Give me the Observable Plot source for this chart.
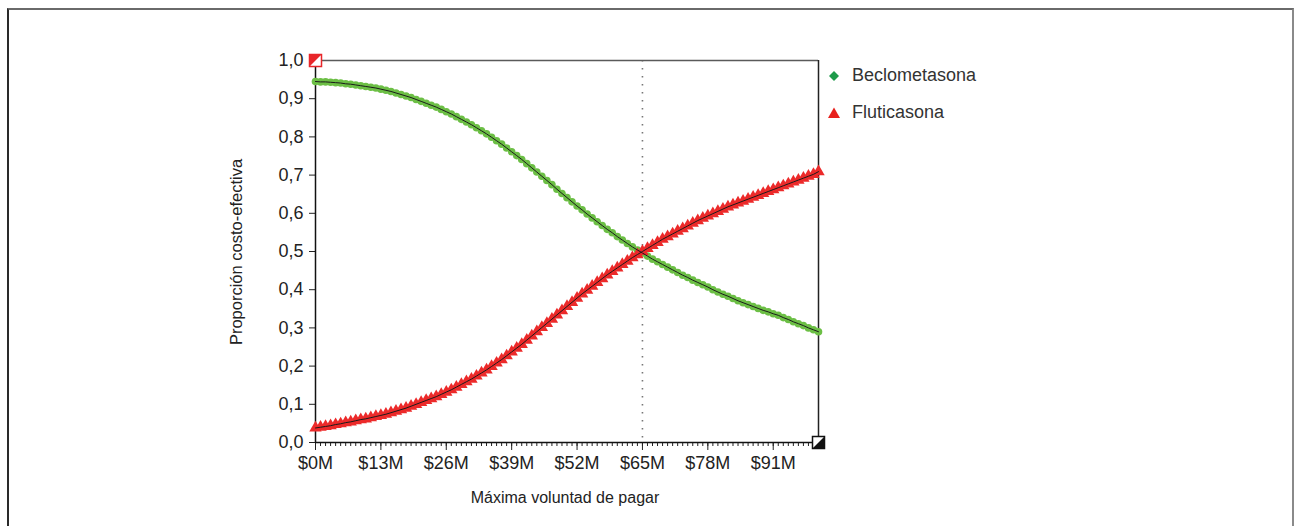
<!DOCTYPE html>
<html><head><meta charset="utf-8">
<script src="https://cdn.jsdelivr.net/npm/d3@7"></script>
<script src="https://cdn.jsdelivr.net/npm/@observablehq/plot@0.6"></script>
<style>
body{margin:0;background:#fff;font-family:"Liberation Sans",Arial,sans-serif;}
#wrap{position:relative;width:1298px;height:526px;overflow:hidden;background:#fff;}
#frame{position:absolute;left:7px;top:8px;width:1287px;height:560px;border-top:2px solid #6a6a6a;border-left:2px solid #2a2a2a;border-right:2px solid #8a8a8a;box-sizing:border-box;}
#chart{position:absolute;left:0;top:0;}
.lbl{position:absolute;font-size:16px;color:#222;white-space:nowrap;}
.leg{position:absolute;font-size:18px;color:#333;white-space:nowrap;display:flex;align-items:center;}
.leg svg{margin-right:11px;}
</style>
</head><body>
<div id="wrap">
  <div id="frame"></div>
  <div id="chart"></div>
  <div class="lbl" style="left:236px;top:252px;font-size:16.5px;transform:translate(-50%,-50%) rotate(-90deg);">Proporción costo-efectiva</div>
  <div class="lbl" style="left:565px;top:498px;transform:translate(-50%,-50%);">Máxima voluntad de pagar</div>
  <div class="leg" style="left:827px;top:65px;"><svg width="14" height="14" viewBox="-7 -7 14 14"><path d="M0,-5L5,0L0,5L-5,0Z" fill="#1e9b4a"/></svg>Beclometasona</div>
  <div class="leg" style="left:827px;top:102px;"><svg width="14" height="14" viewBox="-7 -7 14 14"><path d="M0,-5.5L6,5L-6,5Z" fill="#e8211d"/></svg>Fluticasona</div>
</div>
<script>
// Willingness to pay, millions of $
const wtp = [0,1,2,3,4,5,6,7,8,9,10,11,12,13,14,15,16,17,18,19,20,21,22,23,24,25,26,27,28,29,30,31,32,33,34,35,36,37,38,39,40,41,42,43,44,45,46,47,48,49,50,51,52,53,54,55,56,57,58,59,60,61,62,63,64,65,66,67,68,69,70,71,72,73,74,75,76,77,78,79,80,81,82,83,84,85,86,87,88,89,90,91,92,93,94,95,96,97,98,99,100];
const beclometasona = [
 .945,.944,.944,.943,.942,.941,.939,.938,.936,.934,.932,.930,.928,.925,.922,.919,.915,.911,.907,.903,.898,
 .893,.888,.883,.878,.872,.866,.860,.853,.846,.839,.832,.824,.816,.808,.799,.790,.781,.771,.761,.751,
 .741,.730,.719,.708,.697,.686,.675,.663,.652,.641,.630,.619,.609,.598,.588,.578,.568,.558,.549,.539,
 .530,.521,.512,.504,.496,.488,.480,.473,.466,.459,.452,.445,.438,.432,.425,.419,.413,.407,.400,.394,
 .388,.383,.377,.371,.366,.361,.356,.351,.346,.342,.337,.333,.327,.322,.316,.311,.306,.300,.295,.290];
const fluticasona = [
 .038,.040,.042,.044,.047,.049,.052,.054,.057,.060,.062,.065,.068,.071,.074,.078,.082,.086,.090,.095,.100,
 .105,.110,.115,.120,.126,.132,.138,.145,.152,.159,.166,.174,.182,.190,.199,.208,.217,.227,.237,.247,
 .257,.268,.279,.290,.301,.312,.323,.334,.345,.356,.367,.378,.389,.399,.409,.419,.429,.439,.448,.457,
 .466,.475,.484,.492,.500,.508,.516,.524,.532,.539,.546,.553,.560,.567,.574,.581,.587,.593,.599,.605,
 .611,.617,.622,.627,.632,.637,.642,.647,.652,.657,.662,.667,.672,.677,.682,.687,.692,.697,.702,.709];
const xMajorTicks = [0,13,26,39,52,65,78,91];
const yTicks = [0,0.1,0.2,0.3,0.4,0.5,0.6,0.7,0.8,0.9,1.0];
const thresholdWtp = [65];
const cornerX = [0,100];
const cornerY = [1,0];
const cornerColors = ["#e8262a","#111111"];
const cornerHalf = ["topleft","bottomright"];

const dataB = wtp.map((x,i)=>({x, y: beclometasona[i]}));
const dataF = wtp.map((x,i)=>({x, y: fluticasona[i]}));
const corners = cornerX.map((x,i)=>({x, y: cornerY[i], c: cornerColors[i], h: cornerHalf[i]}));

const squareOutline = {draw(ctx, size){ const r = Math.sqrt(size/Math.PI); ctx.rect(-r,-r,2*r,2*r); }};
const triTL = {draw(ctx, size){ const r = Math.sqrt(size/Math.PI); ctx.moveTo(-r,-r); ctx.lineTo(r,-r); ctx.lineTo(-r,r); ctx.closePath(); }};
const triBR = {draw(ctx, size){ const r = Math.sqrt(size/Math.PI); ctx.moveTo(r,r); ctx.lineTo(r,-r); ctx.lineTo(-r,r); ctx.closePath(); }};

const chart = Plot.plot({
  width: 1298, height: 526,
  marginLeft: 315, marginRight: 480, marginTop: 60, marginBottom: 84,
  x: {domain: [0,100]},
  y: {domain: [0,1]},
  style: {fontFamily: "Liberation Sans, Arial, sans-serif", fontSize: "18px", color: "#222", background: "transparent", overflow: "visible"},
  marks: [
    Plot.ruleX(thresholdWtp, {stroke: "#777", strokeWidth: 1.6, strokeDasharray: "1.5,6.5"}),
    Plot.ruleY([1], {stroke: "#5a5a5a", strokeWidth: 1.5}),
    Plot.ruleX([100], {stroke: "#222", strokeWidth: 1.5}),
    Plot.axisX({ticks: wtp, tickSize: 4, tickFormat: () => "", label: null, strokeWidth: 1}),
    Plot.axisX({ticks: xMajorTicks, tickSize: 8, tickPadding: 6, tickFormat: d => `$${d}M`, label: null, fontSize: 18}),
    Plot.axisY({ticks: yTicks, tickSize: 6, tickPadding: 6, tickFormat: d => d.toFixed(1).replace(".", ","), label: null, fontSize: 18}),
    Plot.ruleY([0], {stroke: "#111", strokeWidth: 1.5}),
    Plot.ruleX([0], {stroke: "#111", strokeWidth: 1.5}),
    Plot.dot(dataB, {x: "x", y: "y", r: 3.8, fill: "#6cbf45", stroke: "none"}),
    Plot.dot(dataF, {x: "x", y: "y", r: 4.6, symbol: "triangle", fill: "#ec2a2a", stroke: "none"}),
    Plot.line(dataB, {x: "x", y: "y", stroke: "#1a1a1a", strokeWidth: 1}),
    Plot.line(dataF, {x: "x", y: "y", stroke: "#1a1a1a", strokeWidth: 1}),
    Plot.dot(corners, {x: "x", y: "y", r: 6, symbol: squareOutline, fill: "white", stroke: "c", strokeWidth: 1.5}),
    Plot.dot(corners, {x: "x", y: "y", r: 6, symbol: d => d.h === "topleft" ? triTL : triBR, fill: "c", stroke: "none"})
  ]
});
document.getElementById("chart").appendChild(chart);
</script>
</body></html>
